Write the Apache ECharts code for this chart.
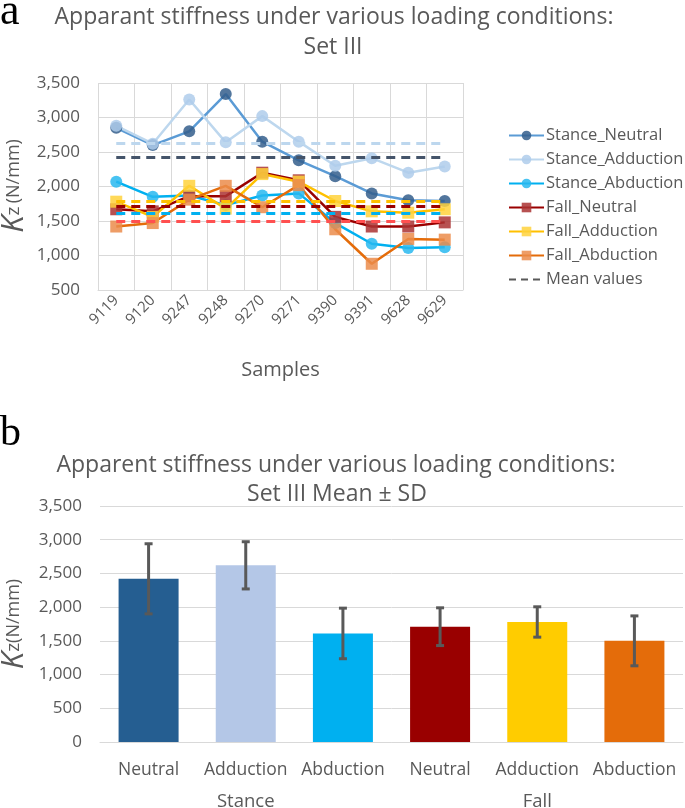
<!DOCTYPE html>
<html>
<head>
<meta charset="utf-8">
<script src="https://cdn.jsdelivr.net/npm/echarts@6/dist/echarts.min.js"></script>
<style>html,body{margin:0;padding:0;background:#fff}#c{width:685px;height:808px}</style>
</head>
<body>
<div id="c"></div>
<script>
// ---------- Data (panel a) ----------
var samples = ['9119','9120','9247','9248','9270','9271','9390','9391','9628','9629'];
var stanceNeutral   = [2850, 2600, 2800, 3340, 2650, 2380, 2150, 1900, 1800, 1790];
var stanceAdduction = [2880, 2620, 3260, 2640, 3020, 2650, 2300, 2410, 2200, 2290];
var stanceAbduction = [2070, 1850, 1870, 1730, 1870, 1900, 1470, 1170, 1110, 1120];
var fallNeutral     = [1670, 1640, 1860, 1860, 2200, 2090, 1560, 1420, 1420, 1480];
var fallAdduction   = [1780, 1560, 2010, 1680, 2180, 2070, 1790, 1640, 1620, 1670];
var fallAbduction   = [1420, 1470, 1810, 2010, 1700, 2020, 1380, 880, 1240, 1230];
var meanValues      = [2420, 2620, 1610, 1710, 1780, 1500];
var topTicks = [500, 1000, 1500, 2000, 2500, 3000, 3500];

// ---------- Data (panel b) ----------
var conditions = ['Neutral','Adduction','Abduction','Neutral','Adduction','Abduction'];
var groups = ['Stance','Fall'];
var barMeans = [2420, 2620, 1610, 1710, 1780, 1500];
var barSD    = [520, 350, 375, 280, 225, 370];

var TXT = '#595959';
var FONT = 'Open Sans';
var fmt = function (v) { return v.toLocaleString('en-US'); };

var lineDefs = [
  {name:'Stance_Neutral',   data:stanceNeutral,   line:'#5B9BD5', mark:'rgba(52,94,140,0.85)',  mean:'#44546A', sym:'circle'},
  {name:'Stance_Adduction', data:stanceAdduction, line:'#BDD7EE', mark:'rgba(175,205,235,0.85)', mean:'#BDD7EE', sym:'circle'},
  {name:'Stance_Abduction', data:stanceAbduction, line:'#00B0F0', mark:'rgba(40,185,240,0.85)',  mean:'#00B0F0', sym:'circle'},
  {name:'Fall_Neutral',     data:fallNeutral,     line:'#990000', mark:'rgba(170,50,50,0.85)',   mean:'#990000', sym:'rect'},
  {name:'Fall_Adduction',   data:fallAdduction,   line:'#FFC000', mark:'rgba(255,210,60,0.85)',  mean:'#FFC000', sym:'rect'},
  {name:'Fall_Abduction',   data:fallAbduction,   line:'#E46C0A', mark:'rgba(235,140,75,0.85)',  mean:'#FF5050', sym:'rect'}
];

var series = [];
lineDefs.forEach(function (d, i) {
  series.push({
    type:'line', name:d.name, xAxisIndex:0, yAxisIndex:0,
    data:d.data, symbol:d.sym, symbolSize:12, showSymbol:true,
    lineStyle:{color:d.line, width:2.5},
    itemStyle:{color:d.mark},
    z: 3,
    markLine:{
      silent:true, symbol:'none', label:{show:false}, animation:false,
      lineStyle:{color:d.mean, type:[9,6], width:3},
      data:[[{coord:[0, meanValues[i]]},{coord:[samples.length-1, meanValues[i]]}]]
    }
  });
});
series.push({
  type:'line', name:'Mean values', xAxisIndex:0, yAxisIndex:0, data:[],
  symbol:'none', lineStyle:{color:'#595959', type:[7,5], width:2}, itemStyle:{color:'#595959'}
});

var barColors = ['#255E91','#B4C7E7','#00B0F0','#990000','#FFCC00','#E46C0A'];
series.push({
  type:'bar', xAxisIndex:1, yAxisIndex:1, barWidth:60,
  data: barMeans.map(function (v, i) { return {value:v, itemStyle:{color:barColors[i]}}; })
});
series.push({
  type:'custom', xAxisIndex:1, yAxisIndex:1, z:5,
  data: barMeans.map(function (v, i) { return [i, v, barSD[i]]; }),
  renderItem: function (params, api) {
    var i = api.value(0), m = api.value(1), s = api.value(2);
    var hi = api.coord([i, m + s]), lo = api.coord([i, m - s]);
    var w = 4;
    var st = {stroke:'#595959', lineWidth:3};
    return {type:'group', children:[
      {type:'line', shape:{x1:hi[0], y1:hi[1], x2:lo[0], y2:lo[1]}, style:st},
      {type:'line', shape:{x1:hi[0]-w, y1:hi[1], x2:hi[0]+w, y2:hi[1]}, style:st},
      {type:'line', shape:{x1:lo[0]-w, y1:lo[1], x2:lo[0]+w, y2:lo[1]}, style:st}
    ]};
  }
});

var richY = {k:{fontSize:31, fontStyle:'italic', fontFamily:FONT, fill:TXT},
             z:{fontSize:19, fontFamily:FONT, fill:TXT},
             u:{fontSize:18, fontFamily:FONT, fill:TXT}};

var option = {
  animation:false,
  textStyle:{fontFamily:FONT, color:TXT},
  grid:[
    {left:98, top:83, width:365, height:207, outerBoundsMode:'none', containLabel:false},
    {left:100, top:506, width:583, height:236, outerBoundsMode:'none', containLabel:false}
  ],
  legend:{
    orient:'vertical', left:503, top:122, itemWidth:35, itemHeight:12, itemGap:7,
    textStyle:{fontFamily:FONT, fontSize:16.5, color:TXT, padding:[0,0,0,-3]},
    data:['Stance_Neutral','Stance_Adduction','Stance_Abduction','Fall_Neutral','Fall_Adduction','Fall_Abduction',
          {name:'Mean values', itemStyle:{opacity:0}}]
  },
  xAxis:[
    {type:'category', gridIndex:0, data:samples, boundaryGap:true,
     axisLine:{lineStyle:{color:'#D9D9D9'}}, axisTick:{show:false},
     splitLine:{show:true, lineStyle:{color:'#D9D9D9'}},
     axisLabel:{rotate:45, fontSize:15, color:TXT, margin:8, fontFamily:FONT},
     name:'Samples', nameLocation:'middle', nameGap:70,
     nameTextStyle:{fontSize:20, color:TXT, fontFamily:FONT}},
    {type:'category', gridIndex:1, data:conditions,
     axisLine:{lineStyle:{color:'#D9D9D9'}}, axisTick:{show:false},
     axisLabel:{fontSize:17.5, color:TXT, margin:19, fontFamily:FONT, interval:0}},
    {type:'category', gridIndex:1, data:groups, position:'bottom',
     axisLine:{show:false}, axisTick:{show:false},
     axisLabel:{fontSize:18.5, color:TXT, margin:50, fontFamily:FONT}}
  ],
  yAxis:[
    {type:'value', gridIndex:0, min:500, max:3500, interval:500,
     axisLine:{show:false}, axisTick:{show:false},
     splitLine:{lineStyle:{color:'#D9D9D9'}},
     axisLabel:{fontSize:17, color:TXT, margin:18, formatter:fmt, fontFamily:FONT}},
    {type:'value', gridIndex:1, min:0, max:3500, interval:500,
     axisLine:{show:false}, axisTick:{show:false},
     splitLine:{lineStyle:{color:'#D9D9D9'}},
     axisLabel:{fontSize:17, color:TXT, margin:18, formatter:fmt, fontFamily:FONT}}
  ],
  graphic:[
    {type:'text', x:0, y:12, style:{text:'a', font:'44px "Liberation Serif"', fill:'#000', verticalAlign:'middle'}},
    {type:'text', x:0, y:434, style:{text:'b', font:'42px "Liberation Serif"', fill:'#000', verticalAlign:'middle'}},
    {type:'text', x:334, y:17, style:{text:'Apparant stiffness under various loading conditions:', font:'23px "Open Sans"', fill:TXT, align:'center', verticalAlign:'middle'}},
    {type:'text', x:333, y:47, style:{text:'Set III', font:'23px "Open Sans"', fill:TXT, align:'center', verticalAlign:'middle'}},
    {type:'text', x:336, y:465, style:{text:'Apparent stiffness under various loading conditions:', font:'23px "Open Sans"', fill:TXT, align:'center', verticalAlign:'middle'}},
    {type:'text', x:337, y:494, style:{text:'Set III Mean \u00b1 SD', font:'23px "Open Sans"', fill:TXT, align:'center', verticalAlign:'middle'}},
    {type:'text', x:14, y:186, rotation:Math.PI/2,
     style:{text:'{k|K}{z|z} {u|(N/mm)}', align:'center', verticalAlign:'middle', rich:richY}},
    {type:'text', x:14, y:624, rotation:Math.PI/2,
     style:{text:'{k|K}{z|z}{u|(N/mm)}', align:'center', verticalAlign:'middle', rich:richY}}
  ],
  series:series
};
var chart = echarts.init(document.getElementById('c'), null, {renderer:'canvas'});
chart.setOption(option);
</script>
</body>
</html>
